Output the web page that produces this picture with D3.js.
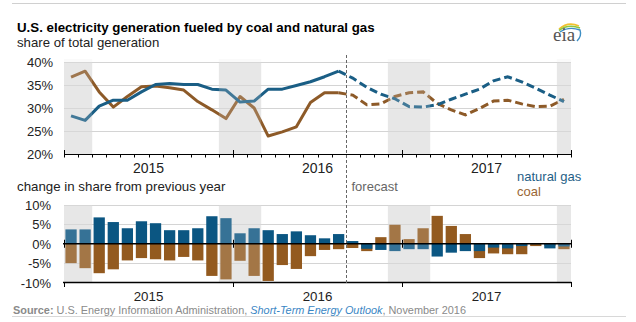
<!DOCTYPE html>
<html>
<head>
<meta charset="utf-8">
<script src="https://cdn.jsdelivr.net/npm/d3@7"></script>
<style>
  body { margin: 0; background: #fff; }
  svg { display: block; font-family: Arial, "Liberation Sans", sans-serif; }
</style>
</head>
<body>
<svg id="chart" width="636" height="322"></svg>
<script>
// monthly categories, Jan 2015 .. Dec 2017
const months = d3.timeMonths(new Date(2015, 0, 1), new Date(2018, 0, 1));
const years = ["2015", "2016", "2017"];
const FORECAST_START = 19; // Aug 2016 is the last actual month

// share of total generation (%)
const gasShare = [28.3, 27.3, 30.4, 31.7, 31.7, 33.5, 35.1, 35.3, 35.1, 35.1, 34.1, 33.9,
                  31.3, 31.5, 34.1, 34.1, 34.9, 35.7, 36.8, 38.0, 36.5, 34.5, 33.0, 32.0,
                  30.3, 30.2, 30.7, 31.9, 33.0, 34.1, 35.9, 36.8, 35.7, 34.3, 32.8, 31.4];
const coalShare = [36.7, 38.0, 33.5, 30.2, 32.5, 34.6, 34.8, 34.4, 33.9, 31.4, 29.6, 27.7,
                   32.5, 30.0, 23.9, 24.8, 25.9, 31.2, 33.3, 33.3, 32.8, 30.7, 30.9, 32.5,
                   33.3, 33.5, 31.0, 29.6, 28.5, 29.9, 31.5, 31.7, 30.9, 30.3, 30.4, 31.9];

// change in share from previous year (percentage points)
const gasChange = [3.7, 3.7, 6.8, 5.6, 4.0, 5.8, 5.3, 3.5, 3.5, 4.0, 7.1, 6.6,
                   2.7, 4.0, 3.5, 2.5, 3.2, 2.2, 1.4, 2.5, 0.7, -1.3, -1.6, -1.9,
                   -1.4, -1.4, -3.3, -2.3, -1.9, -1.9, -1.0, -1.2, -0.6, -0.1, -1.2, -0.7];
const coalChange = [-5.0, -6.3, -7.6, -6.6, -4.3, -3.7, -4.0, -4.3, -3.4, -4.3, -8.3, -9.2,
                    -4.4, -8.3, -9.6, -5.5, -6.5, -3.2, -1.6, -1.4, -1.1, -1.9, 1.7, 4.9,
                    1.2, 4.0, 7.2, 4.6, 2.5, -3.7, -2.5, -2.7, -2.7, -0.6, -0.5, -1.4];

// winter shading: [first month index, last month index]
const winters = [[0, 1], [11, 13], [23, 25], [35, 35]];

const topTicks = [20, 25, 30, 35, 40];
const botTicks = [-10, -5, 0, 5, 10];

const BLUE_LINE = "#1a5e85", BROWN_LINE = "#8d5a28";
const BLUE_BAR = "#0b5682", BROWN_BAR = "#935a1f";

const svg = d3.select("#chart");
const L = 64, R = 571;

const x = d3.scaleBand().domain(d3.range(months.length)).range([L, R])
  .paddingInner(0.2).paddingOuter(0.1);
const step = x.step();
const edge = i => L + i * step;           // month boundary
const mid = i => x(i) + x.bandwidth() / 2; // month centre

const yTop = d3.scaleLinear().domain([20, 40]).range([154, 62]);
const yBot = d3.scaleLinear().domain([-10, 10]).range([282.5, 205]);

// frame rules
svg.append("line").attr("x1", 12).attr("x2", 626).attr("y1", 3.5).attr("y2", 3.5)
  .attr("stroke", "#d0d0d0");
svg.append("line").attr("x1", 12).attr("x2", 626).attr("y1", 316.5).attr("y2", 316.5)
  .attr("stroke", "#d8d8d8");

// titles
svg.append("text").attr("x", 17).attr("y", 32).attr("font-size", 13.3).attr("font-weight", "bold")
  .attr("fill", "#000").text("U.S. electricity generation fueled by coal and natural gas");
svg.append("text").attr("x", 17).attr("y", 47).attr("font-size", 13.2).attr("fill", "#222")
  .text("share of total generation");
svg.append("text").attr("x", 17).attr("y", 191).attr("font-size", 13.3).attr("fill", "#222")
  .text("change in share from previous year");

// shading backgrounds
function shade(g, y0, y1) {
  g.selectAll(null).data(winters).join("rect")
    .attr("x", d => edge(d[0])).attr("width", d => edge(d[1] + 1) - edge(d[0]))
    .attr("y", y0).attr("height", y1 - y0).attr("fill", "#e8e8e8");
}
shade(svg.append("g"), yTop(40), yTop(20));
shade(svg.append("g"), yBot(10), yBot(-10));

// gridlines
svg.append("g").selectAll("line").data(topTicks.slice(1)).join("line")
  .attr("x1", L).attr("x2", R).attr("y1", d => Math.round(yTop(d)) + 0.5).attr("y2", d => Math.round(yTop(d)) + 0.5)
  .attr("stroke", "#d4d4d4");
svg.append("g").selectAll("line").data([10, 5, -5]).join("line")
  .attr("x1", L).attr("x2", R).attr("y1", d => Math.round(yBot(d)) + 0.5).attr("y2", d => Math.round(yBot(d)) + 0.5)
  .attr("stroke", "#d4d4d4");

// y tick labels
svg.append("g").selectAll("text").data(topTicks).join("text")
  .attr("x", 53).attr("y", d => yTop(d) + 5).attr("text-anchor", "end")
  .attr("font-size", 13).attr("fill", "#222").text(d => d + "%");
svg.append("g").selectAll("text").data(botTicks).join("text")
  .attr("x", 51).attr("y", d => yBot(d) + 5).attr("text-anchor", "end")
  .attr("font-size", 13).attr("fill", "#222").text(d => d + "%");

// lines
const lineGen = y => d3.line().x(i => mid(i)).y(i => yTop(y[i]));
const actual = d3.range(0, FORECAST_START + 1);
const fcast = d3.range(FORECAST_START, months.length);
[[coalShare, BROWN_LINE], [gasShare, BLUE_LINE]].forEach(([vals, col]) => {
  svg.append("path").datum(actual).attr("d", lineGen(vals))
    .attr("fill", "none").attr("stroke", col).attr("stroke-width", 3).attr("stroke-linejoin", "round");
  svg.append("path").datum(fcast).attr("d", lineGen(vals))
    .attr("fill", "none").attr("stroke", col).attr("stroke-width", 3).attr("stroke-dasharray", "8,4");
});

// bars: coal behind, gas in front
const y0 = yBot(0);
[[coalChange, BROWN_BAR], [gasChange, BLUE_BAR]].forEach(([vals, col]) => {
  svg.append("g").selectAll("rect").data(vals).join("rect")
    .attr("x", (d, i) => x(i)).attr("width", x.bandwidth())
    .attr("y", d => Math.min(y0, yBot(d))).attr("height", d => Math.abs(yBot(d) - y0))
    .attr("fill", col);
});

// lighten marks inside winter shading
function veil(y0, y1) {
  svg.append("g").selectAll("rect").data(winters).join("rect")
    .attr("x", d => edge(d[0])).attr("width", d => edge(d[1] + 1) - edge(d[0]))
    .attr("y", y0).attr("height", y1 - y0).attr("fill", "#e8e8e8").attr("opacity", 0.2);
}
veil(yTop(40) - 3, yTop(20));
veil(yBot(10), yBot(-10));

// top x axis
const ax = svg.append("g").attr("stroke", "#000");
ax.append("line").attr("x1", L).attr("x2", R).attr("y1", 154.5).attr("y2", 154.5);
ax.selectAll(".m").data(d3.range(months.length + 1)).join("line")
  .attr("x1", i => Math.round(edge(i)) + 0.5).attr("x2", i => Math.round(edge(i)) + 0.5)
  .attr("y1", i => i % 12 === 0 ? 150 : 154).attr("y2", 157.5);

// bottom zero line and axis
ax.append("line").attr("x1", L - 1).attr("x2", R).attr("y1", y0).attr("y2", y0).attr("stroke-width", 1.5);
ax.selectAll(".z").data([0, 12, 24, 36]).join("line")
  .attr("x1", i => Math.round(edge(i)) + 0.5).attr("x2", i => Math.round(edge(i)) + 0.5)
  .attr("y1", y0 - 4).attr("y2", y0 + 4);
ax.append("line").attr("x1", L - 1).attr("x2", R + 0.5).attr("y1", 282.5).attr("y2", 282.5).attr("stroke-width", 1.5);
ax.selectAll(".b").data([0, 12, 24, 36]).join("line")
  .attr("x1", i => Math.round(edge(i)) + 0.5).attr("x2", i => Math.round(edge(i)) + 0.5)
  .attr("y1", 282).attr("y2", 287);

// year labels
[[173, 14], [301, 13.3]].forEach(([yy, fs]) => {
  svg.append("g").selectAll("text").data(years).join("text")
    .attr("x", (d, i) => (edge(i * 12) + edge(i * 12 + 12)) / 2).attr("y", yy)
    .attr("text-anchor", "middle").attr("font-size", fs).attr("fill", "#222").text(d => d);
});

// forecast divider
const fx = Math.round(edge(FORECAST_START + 1)) + 0.5;
svg.append("line").attr("x1", fx).attr("x2", fx).attr("y1", 55).attr("y2", 283)
  .attr("stroke", "#666").attr("stroke-dasharray", "3,2");
svg.append("text").attr("x", fx + 5).attr("y", 191).attr("font-size", 13).attr("fill", "#666")
  .text("forecast");

// legend
svg.append("text").attr("x", 517).attr("y", 181).attr("font-size", 13).attr("fill", "#1f5f87").text("natural gas");
svg.append("text").attr("x", 517).attr("y", 196).attr("font-size", 13).attr("fill", "#9a6634").text("coal");

// source
const src = svg.append("text").attr("x", 13).attr("y", 314).attr("font-size", 10.9).attr("fill", "#8a8a8a");
src.append("tspan").attr("font-weight", "bold").text("Source: ");
src.append("tspan").text("U.S. Energy Information Administration, ");
src.append("tspan").attr("font-style", "italic").attr("fill", "#3a86c4").text("Short-Term Energy Outlook");
src.append("tspan").text(", November 2016");

// eia logo
const logo = svg.append("g");
logo.append("path").attr("d", "M559,29 Q568,21 579,26").attr("fill", "none").attr("stroke", "#f2c12e").attr("stroke-width", 1.6);
logo.append("path").attr("d", "M559,30.5 Q568,23.5 580,28").attr("fill", "none").attr("stroke", "#8cc63f").attr("stroke-width", 1.6);
logo.append("path").attr("d", "M560,32 Q569,26 580,30 Q582,36 577,41").attr("fill", "none").attr("stroke", "#3d8ec4").attr("stroke-width", 1.4);
logo.append("text").attr("x", 553).attr("y", 41).attr("font-family", "'Liberation Serif', 'DejaVu Serif', serif")
  .attr("font-size", 19).attr("fill", "#555").text("eia");
</script>
</body>
</html>
